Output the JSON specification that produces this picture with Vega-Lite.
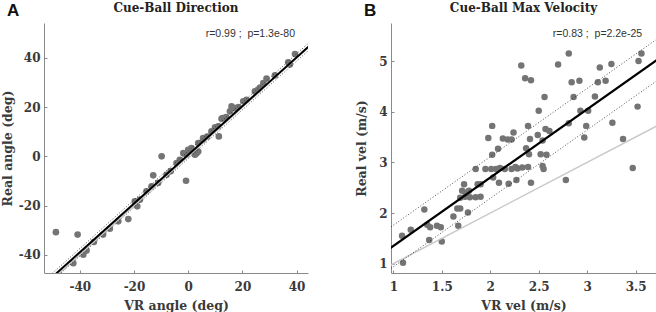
{
  "$schema": "https://vega.github.io/schema/vega-lite/v6.json",
  "background": "white",
  "padding": {"left": 1, "top": 2, "right": 0, "bottom": 0},
  "bounds": "flush",
  "spacing": 83,
  "config": {
    "view": {"stroke": null},
    "axis": {
      "grid": false,
      "domainColor": "#8a8a8a",
      "tickColor": "#8a8a8a",
      "tickSize": -3,
      "labelFont": "DejaVu Serif",
      "labelFontWeight": "bold",
      "labelFontSize": 12,
      "labelColor": "#3a3a3a",
      "titleFont": "DejaVu Serif",
      "titleFontWeight": "bold",
      "titleFontSize": 12.5,
      "titleColor": "#3a3a3a"
    },
    "axisX": {"labelPadding": 11, "titlePadding": 7},
    "axisY": {"labelPadding": 7},
    "title": {"font": "DejaVu Serif", "fontWeight": "bold", "fontSize": 12, "color": "#222222", "offset": -13, "frame": "group"}
  },
  "datasets": {
    "dirPts": [
      {"x": -48.8, "y": -30.8}, {"x": -42.4, "y": -43.4}, {"x": -40.8, "y": -31.8}, {"x": -38.7, "y": -40.0},
      {"x": -37.5, "y": -38.3}, {"x": -34.8, "y": -34.8}, {"x": -31.4, "y": -31.8}, {"x": -28.9, "y": -29.4},
      {"x": -25.8, "y": -26.4}, {"x": -22.1, "y": -25.5}, {"x": -19.7, "y": -18.3}, {"x": -18.8, "y": -20.3},
      {"x": -17.8, "y": -17.6}, {"x": -15.4, "y": -14.2}, {"x": -13.5, "y": -12.2}, {"x": -12.9, "y": -7.7},
      {"x": -11.1, "y": -10.8}, {"x": -9.8, "y": 0.0}, {"x": -8.0, "y": -7.5}, {"x": -6.5, "y": -6.0},
      {"x": -4.3, "y": -2.7}, {"x": -3.1, "y": -1.4}, {"x": -1.8, "y": 1.3}, {"x": -0.8, "y": -9.9},
      {"x": -0.6, "y": 0.7}, {"x": 0.0, "y": 2.7}, {"x": 1.2, "y": 3.4}, {"x": 1.8, "y": 2.0},
      {"x": 2.5, "y": 0.7}, {"x": 3.1, "y": 1.3}, {"x": 3.7, "y": 2.0}, {"x": 3.7, "y": 5.4},
      {"x": 5.5, "y": 6.8}, {"x": 5.5, "y": 7.4}, {"x": 7.0, "y": 8.0}, {"x": 8.6, "y": 10.2},
      {"x": 9.9, "y": 11.8}, {"x": 11.1, "y": 12.2}, {"x": 11.3, "y": 8.1}, {"x": 12.3, "y": 15.3},
      {"x": 12.7, "y": 15.6}, {"x": 14.0, "y": 16.0}, {"x": 15.4, "y": 18.3}, {"x": 16.0, "y": 20.3},
      {"x": 17.2, "y": 19.6}, {"x": 18.5, "y": 20.0}, {"x": 20.3, "y": 22.4}, {"x": 21.5, "y": 23.0},
      {"x": 24.6, "y": 26.4}, {"x": 25.8, "y": 27.1}, {"x": 26.5, "y": 28.0}, {"x": 27.7, "y": 29.8},
      {"x": 28.9, "y": 31.6}, {"x": 32.0, "y": 32.9}, {"x": 36.9, "y": 38.2}, {"x": 37.5, "y": 37.3},
      {"x": 39.4, "y": 41.6}
    ],
    "dirLines": [
      {"line": "id", "x": -60, "y": -60}, {"line": "id", "x": 50, "y": 50},
      {"line": "up", "x": -60, "y": -57.3}, {"line": "up", "x": 50, "y": 51.6},
      {"line": "lo", "x": -60, "y": -60.3}, {"line": "lo", "x": 50, "y": 48.6},
      {"line": "fit", "x": -60, "y": -58.8}, {"line": "fit", "x": 50, "y": 50.1}
    ],
    "velPts": [
      {"x": 1.98, "y": 3.48}, {"x": 2.02, "y": 3.72}, {"x": 2.08, "y": 3.27}, {"x": 2.02, "y": 3.15},
      {"x": 2.13, "y": 3.47}, {"x": 2.18, "y": 3.45}, {"x": 2.22, "y": 3.45}, {"x": 2.24, "y": 3.59},
      {"x": 2.32, "y": 4.91}, {"x": 2.36, "y": 4.66}, {"x": 2.42, "y": 4.62}, {"x": 2.39, "y": 3.72},
      {"x": 2.41, "y": 3.46}, {"x": 2.50, "y": 4.02}, {"x": 2.49, "y": 3.54}, {"x": 2.56, "y": 4.29},
      {"x": 2.57, "y": 3.66}, {"x": 2.61, "y": 3.62}, {"x": 2.54, "y": 3.43}, {"x": 2.37, "y": 3.28},
      {"x": 2.40, "y": 3.16}, {"x": 2.52, "y": 3.16}, {"x": 2.58, "y": 3.15}, {"x": 2.70, "y": 4.93},
      {"x": 2.81, "y": 5.15}, {"x": 2.84, "y": 4.58}, {"x": 2.92, "y": 4.61}, {"x": 2.86, "y": 4.29},
      {"x": 2.93, "y": 4.02}, {"x": 2.81, "y": 3.77}, {"x": 3.01, "y": 4.02}, {"x": 2.99, "y": 3.72},
      {"x": 2.97, "y": 3.49}, {"x": 3.08, "y": 4.30}, {"x": 3.11, "y": 4.58}, {"x": 3.13, "y": 4.87},
      {"x": 3.19, "y": 4.61}, {"x": 3.25, "y": 4.94}, {"x": 3.26, "y": 3.78}, {"x": 3.37, "y": 3.46},
      {"x": 3.52, "y": 4.10}, {"x": 3.53, "y": 5.00}, {"x": 3.56, "y": 5.15},
      {"x": 1.10, "y": 1.02}, {"x": 1.09, "y": 1.55}, {"x": 1.18, "y": 1.67}, {"x": 1.32, "y": 2.07},
      {"x": 1.35, "y": 1.77}, {"x": 1.38, "y": 1.72}, {"x": 1.37, "y": 1.47}, {"x": 1.45, "y": 1.75},
      {"x": 1.49, "y": 1.72}, {"x": 1.50, "y": 1.44}, {"x": 1.62, "y": 1.93}, {"x": 1.66, "y": 2.09},
      {"x": 1.69, "y": 2.09}, {"x": 1.67, "y": 1.75}, {"x": 1.77, "y": 2.01}, {"x": 1.73, "y": 2.57},
      {"x": 1.71, "y": 2.44}, {"x": 1.69, "y": 2.30}, {"x": 1.74, "y": 2.32}, {"x": 1.79, "y": 2.31},
      {"x": 1.85, "y": 2.31}, {"x": 1.90, "y": 2.32}, {"x": 1.78, "y": 2.44}, {"x": 1.75, "y": 2.40},
      {"x": 1.85, "y": 2.87}, {"x": 1.87, "y": 2.57}, {"x": 1.90, "y": 2.57}, {"x": 1.95, "y": 2.87},
      {"x": 2.01, "y": 2.87}, {"x": 2.03, "y": 2.70}, {"x": 2.09, "y": 2.60}, {"x": 2.06, "y": 2.87},
      {"x": 2.10, "y": 2.89}, {"x": 2.15, "y": 2.87}, {"x": 2.19, "y": 2.58}, {"x": 2.22, "y": 2.87},
      {"x": 2.26, "y": 2.91}, {"x": 2.27, "y": 2.65}, {"x": 2.33, "y": 2.90}, {"x": 2.39, "y": 2.91},
      {"x": 2.42, "y": 2.60}, {"x": 2.54, "y": 2.93}, {"x": 2.55, "y": 2.87}, {"x": 2.78, "y": 2.65},
      {"x": 3.47, "y": 2.89}, {"x": 2.28, "y": 2.88}
    ],
    "velLines": [
      {"line": "id", "x": 0.9, "y": 0.9}, {"line": "id", "x": 3.8, "y": 3.8},
      {"line": "up", "x": 0.9, "y": 1.625}, {"line": "up", "x": 3.8, "y": 5.54},
      {"line": "lo", "x": 0.9, "y": 0.805}, {"line": "lo", "x": 3.8, "y": 4.72},
      {"line": "fit", "x": 0.9, "y": 1.215}, {"line": "fit", "x": 3.8, "y": 5.13}
    ]
  },
  "hconcat": [
    {
      "width": 264,
      "height": 250,
      "title": {"text": "Cue-Ball Direction"},
      "layer": [
        {
          "data": {"name": "dirPts"},
          "mark": {"type": "circle", "size": 44, "color": "#747474", "opacity": 1},
          "encoding": {
            "x": {"field": "x", "type": "quantitative",
                  "scale": {"domain": [-53.2, 44.2], "nice": false, "zero": false},
                  "axis": {"title": "VR angle (deg)", "values": [-40, -20, 0, 20, 40],
                           "labelExpr": "datum.value < 0 ? '-' + abs(datum.value) : '' + datum.value"}},
            "y": {"field": "y", "type": "quantitative",
                  "scale": {"domain": [-47.4, 54.2], "nice": false, "zero": false},
                  "axis": {"title": "Real angle (deg)", "values": [-40, -20, 0, 20, 40], "titlePadding": 3.5,
                           "labelExpr": "datum.value < 0 ? '-' + abs(datum.value) : '' + datum.value"}}
          }
        },
        {
          "data": {"name": "dirLines"},
          "transform": [{"filter": "datum.line == 'id'"}],
          "mark": {"type": "line", "color": "#c8c8c8", "strokeWidth": 1.5, "clip": true},
          "encoding": {"x": {"field": "x", "type": "quantitative"}, "y": {"field": "y", "type": "quantitative"}}
        },
        {
          "data": {"name": "dirLines"},
          "transform": [{"filter": "datum.line == 'up' || datum.line == 'lo'"}],
          "mark": {"type": "line", "color": "#222222", "strokeWidth": 0.8, "strokeDash": [1, 2], "clip": true},
          "encoding": {"x": {"field": "x", "type": "quantitative"}, "y": {"field": "y", "type": "quantitative"}, "detail": {"field": "line"}}
        },
        {
          "data": {"name": "dirLines"},
          "transform": [{"filter": "datum.line == 'fit'"}],
          "mark": {"type": "line", "color": "#000000", "strokeWidth": 2, "clip": true},
          "encoding": {"x": {"field": "x", "type": "quantitative"}, "y": {"field": "y", "type": "quantitative"}}
        },
        {
          "data": {"values": [{}]},
          "mark": {"type": "text", "align": "right", "baseline": "middle", "font": "Liberation Sans", "fontSize": 10.5, "color": "#333333"},
          "encoding": {"x": {"datum": 39.4}, "y": {"datum": 49.6}, "text": {"value": "r=0.99 ;\u00a0 p=1.3e-80"}}
        },
        {
          "data": {"values": [{}]},
          "mark": {"type": "text", "align": "left", "baseline": "top", "font": "Liberation Sans", "fontWeight": "bold", "fontSize": 17, "color": "#111111", "dx": -37, "dy": -20},
          "encoding": {"x": {"datum": -53.2}, "y": {"datum": 54.2}, "text": {"value": "A"}}
        }
      ]
    },
    {
      "width": 265,
      "height": 250,
      "title": {"text": "Cue-Ball Max Velocity"},
      "layer": [
        {
          "data": {"name": "velPts"},
          "mark": {"type": "circle", "size": 42, "color": "#747474", "opacity": 1},
          "encoding": {
            "x": {"field": "x", "type": "quantitative",
                  "scale": {"domain": [0.976, 3.71], "nice": false, "zero": false},
                  "axis": {"title": "VR vel (m/s)", "values": [1, 1.5, 2, 2.5, 3, 3.5], "format": "~g"}},
            "y": {"field": "y", "type": "quantitative",
                  "scale": {"domain": [0.817, 5.75], "nice": false, "zero": false},
                  "axis": {"title": "Real vel (m/s)", "values": [1, 2, 3, 4, 5], "format": "d", "titlePadding": 10}}
          }
        },
        {
          "data": {"name": "velLines"},
          "transform": [{"filter": "datum.line == 'id'"}],
          "mark": {"type": "line", "color": "#c8c8c8", "strokeWidth": 1.5, "clip": true},
          "encoding": {"x": {"field": "x", "type": "quantitative"}, "y": {"field": "y", "type": "quantitative"}}
        },
        {
          "data": {"name": "velLines"},
          "transform": [{"filter": "datum.line == 'up' || datum.line == 'lo'"}],
          "mark": {"type": "line", "color": "#222222", "strokeWidth": 0.8, "strokeDash": [1, 2], "clip": true},
          "encoding": {"x": {"field": "x", "type": "quantitative"}, "y": {"field": "y", "type": "quantitative"}, "detail": {"field": "line"}}
        },
        {
          "data": {"name": "velLines"},
          "transform": [{"filter": "datum.line == 'fit'"}],
          "mark": {"type": "line", "color": "#000000", "strokeWidth": 2.2, "clip": true},
          "encoding": {"x": {"field": "x", "type": "quantitative"}, "y": {"field": "y", "type": "quantitative"}}
        },
        {
          "data": {"values": [{}]},
          "mark": {"type": "text", "align": "right", "baseline": "middle", "font": "Liberation Sans", "fontSize": 10.5, "color": "#333333"},
          "encoding": {"x": {"datum": 3.567}, "y": {"datum": 5.53}, "text": {"value": "r=0.83 ;\u00a0 p=2.2e-25"}}
        },
        {
          "data": {"values": [{}]},
          "mark": {"type": "text", "align": "left", "baseline": "top", "font": "Liberation Sans", "fontWeight": "bold", "fontSize": 17, "color": "#111111", "dx": -27, "dy": -20},
          "encoding": {"x": {"datum": 0.976}, "y": {"datum": 5.75}, "text": {"value": "B"}}
        }
      ]
    }
  ]
}
